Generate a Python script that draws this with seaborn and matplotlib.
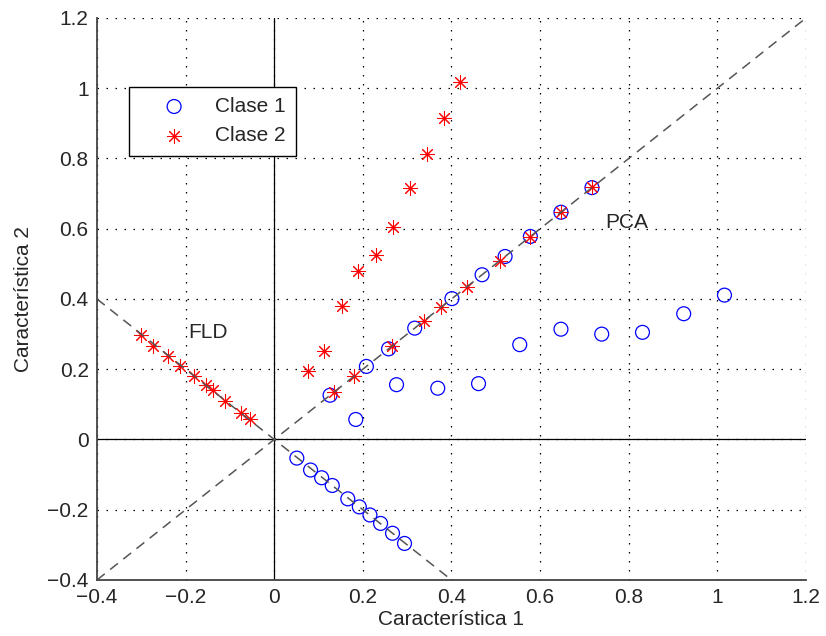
import numpy as np
import pandas as pd
import seaborn as sns
import matplotlib.pyplot as plt

# Clase 1 (circulos): muestras originales
c1_x = [0.184, 0.276, 0.369, 0.461, 0.554, 0.647, 0.739, 0.831, 0.924, 1.016]
c1_y = [0.057, 0.156, 0.146, 0.159, 0.270, 0.314, 0.300, 0.305, 0.358, 0.411]
# proyecciones sobre la direccion PCA (recta y = x)
c1_pca = [0.126, 0.208, 0.258, 0.317, 0.401, 0.469, 0.521, 0.578, 0.647, 0.717]
# proyecciones sobre la direccion FLD (recta y = -x)
c1_fld_x = [0.051, 0.082, 0.107, 0.131, 0.166, 0.192, 0.216, 0.240, 0.267, 0.294]
c1_fld_y = [-0.053, -0.087, -0.109, -0.131, -0.169, -0.192, -0.215, -0.239, -0.267, -0.296]

# Clase 2 (asteriscos)
c2_x = [0.077, 0.113, 0.152, 0.190, 0.229, 0.267, 0.306, 0.345, 0.382, 0.420]
c2_y = [0.194, 0.253, 0.381, 0.481, 0.526, 0.606, 0.717, 0.813, 0.916, 1.017]
c2_pca = [0.135, 0.181, 0.266, 0.337, 0.376, 0.435, 0.509, 0.577, 0.648, 0.718]
c2_fld_x = [-0.301, -0.273, -0.239, -0.213, -0.180, -0.155, -0.139, -0.110, -0.075, -0.055]
c2_fld_y = [0.298, 0.267, 0.237, 0.210, 0.182, 0.156, 0.142, 0.109, 0.076, 0.057]

# rectas de proyeccion
pca_line_x = [-0.4, 1.2]
pca_line_y = [-0.4, 1.2]
fld_line_x = [-0.4, 0.4]
fld_line_y = [0.4, -0.4]

ticks = [-0.4, -0.2, 0, 0.2, 0.4, 0.6, 0.8, 1, 1.2]
tick_labels = ['\u22120.4', '\u22120.2', '0', '0.2', '0.4', '0.6', '0.8', '1', '1.2']

sns.set_style("white")
plt.rcParams['font.family'] = ['Liberation Sans', 'DejaVu Sans']
plt.rcParams['font.size'] = 15

df1 = pd.DataFrame({'x': np.concatenate([c1_x, c1_pca, c1_fld_x]),
                    'y': np.concatenate([c1_y, c1_pca, c1_fld_y])})
df2 = pd.DataFrame({'x': np.concatenate([c2_x, c2_pca, c2_fld_x]),
                    'y': np.concatenate([c2_y, c2_pca, c2_fld_y])})

fig = plt.figure(figsize=(8.26, 6.36), dpi=100)
ax = fig.add_axes([0.1174, 0.0881, 0.8584, 0.8836])

sns.scatterplot(data=df1, x='x', y='y', ax=ax, marker='o', s=100,
                facecolor='none', edgecolor='#0000ff', linewidth=0.9,
                label='Clase 1', zorder=3)
sns.scatterplot(data=df2, x='x', y='y', ax=ax, marker=(8, 2, 0), s=100,
                edgecolor='#ff0000', facecolor='#ff0000', linewidth=0.75,
                label='Clase 2', zorder=4)

dash_kw = dict(color='#555555', linewidth=1.1, dashes=(6.5, 4.5), zorder=5)
ax.plot(pca_line_x, pca_line_y, **dash_kw)
ax.plot(fld_line_x, fld_line_y, **dash_kw)

ax.axhline(0, color='black', linewidth=0.9, zorder=2)
ax.axvline(0, color='black', linewidth=0.9, zorder=2)

ax.text(0.748, 0.619, 'PCA', ha='left', va='center', fontsize=15)
ax.text(-0.193, 0.304, 'FLD', ha='left', va='center', fontsize=15)

ax.set_xlim(-0.4, 1.2)
ax.set_ylim(-0.4, 1.2)
ax.set_xticks(ticks)
ax.set_xticklabels(tick_labels)
ax.set_yticks(ticks)
ax.set_yticklabels(tick_labels)
ax.tick_params(direction='in', length=5, width=1.0, color='#333333',
               labelsize=15, pad=6, top=False, right=False)
ax.grid(True, color='black', linewidth=0.9, linestyle=(0, (1.2, 6)), zorder=0)
ax.set_axisbelow(True)

for side in ['top', 'right']:
    ax.spines[side].set_visible(False)
for side in ['left', 'bottom']:
    ax.spines[side].set_color('#444444')
    ax.spines[side].set_linewidth(1.3)

ax.set_xlabel('Característica 1', fontsize=15, labelpad=2)
ax.set_ylabel('Característica 2', fontsize=15, labelpad=10)

leg = ax.legend(loc='upper left', bbox_to_anchor=(0.0456, 0.878),
                borderaxespad=0, fancybox=False, frameon=True,
                edgecolor='black', framealpha=1, fontsize=15,
                handlelength=3.3, handletextpad=0.3, borderpad=0.5,
                labelspacing=0.5, scatterpoints=1)
leg.get_frame().set_linewidth(1.0)

fig.savefig('out.png', dpi=100)
